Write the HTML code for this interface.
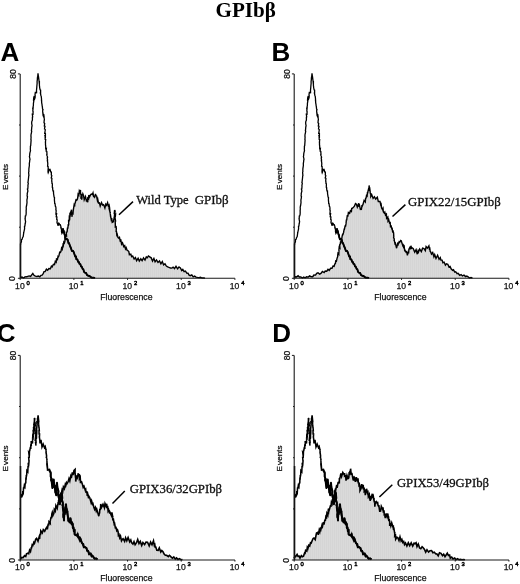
<!DOCTYPE html>
<html lang="en"><head><meta charset="utf-8"><title>GPIbβ</title>
<style>html,body{margin:0;padding:0;background:#fff}svg{display:block}</style></head>
<body>
<svg width="520" height="584" viewBox="0 0 520 584">
<defs><pattern id="stip" width="2" height="2" patternUnits="userSpaceOnUse"><rect width="2" height="2" fill="#dadada"/><rect width="1" height="2" fill="#d5d5d5"/></pattern></defs>
<rect width="520" height="584" fill="#fff"/>
<text x="245.7" y="17.4" text-anchor="middle" textLength="60.4" lengthAdjust="spacingAndGlyphs" font-family="'Liberation Serif', serif" font-weight="bold" font-size="20" fill="#000">GPIbβ</text>
<g>
<text x="0.6" y="61" font-family="'Liberation Sans', sans-serif" font-weight="bold" font-size="26" fill="#000">A</text>
<polygon points="20.5,278.3 20.5,277.5 22.0,277.1 23.6,278.0 24.9,276.9 26.5,276.8 27.8,276.3 29.1,275.9 30.6,276.5 31.7,274.8 32.8,273.5 34.0,275.3 35.4,276.1 36.9,276.5 38.4,276.0 39.8,276.8 41.0,275.3 42.1,275.1 43.2,273.7 44.0,271.6 45.1,271.6 46.4,269.2 47.6,270.2 48.9,268.5 50.4,268.7 51.4,266.1 52.2,266.8 53.4,264.3 54.5,264.6 55.3,261.3 56.2,262.2 56.5,258.9 57.4,259.5 58.1,256.2 58.6,256.5 59.0,255.4 59.7,252.1 60.5,252.4 61.0,251.4 61.6,247.9 62.3,249.1 63.0,244.9 63.3,245.5 63.8,242.1 64.4,243.0 64.9,241.5 64.9,237.6 65.9,236.3 66.0,235.4 66.5,235.8 66.3,232.4 66.6,232.5 67.1,231.8 67.5,227.6 67.8,228.6 68.2,225.0 68.5,225.1 68.7,224.4 68.6,220.6 69.2,220.7 69.3,217.4 69.7,218.1 69.9,214.6 70.2,215.1 70.7,211.6 70.8,212.6 71.5,209.7 71.7,213.3 71.6,213.8 72.1,216.8 72.2,213.1 73.0,213.7 73.3,209.6 73.3,210.5 73.4,209.4 74.1,205.0 74.7,206.5 74.7,204.5 75.5,201.7 76.0,199.8 76.7,200.2 77.1,199.8 77.7,197.8 78.1,194.2 78.8,195.3 79.3,191.1 80.1,192.8 80.5,189.9 80.5,193.5 81.0,194.7 81.3,194.1 80.9,197.9 81.7,197.8 81.7,199.7 82.1,196.8 82.0,197.1 82.1,193.8 82.6,195.4 82.9,193.9 83.6,195.6 84.2,199.8 85.5,196.6 86.4,200.9 87.4,199.5 87.8,202.3 87.7,198.2 88.6,199.0 88.8,195.1 89.5,197.0 90.8,194.5 91.4,194.1 92.4,194.5 93.0,192.9 93.7,197.1 93.9,196.4 94.6,197.3 95.5,193.9 95.9,195.7 96.7,196.1 96.8,197.5 97.4,200.5 97.8,199.4 98.5,203.2 99.4,202.9 100.2,206.1 101.5,202.6 102.6,205.0 103.6,204.6 104.9,208.1 105.8,204.2 106.6,205.3 107.6,202.6 108.4,206.2 109.1,205.1 109.5,207.0 109.8,210.1 109.4,209.7 110.3,213.3 110.1,212.5 110.5,215.9 110.6,215.8 111.2,219.3 111.7,218.0 112.2,222.4 113.3,221.7 114.1,218.3 114.4,219.6 114.0,218.1 114.3,216.8 114.8,212.6 114.3,212.9 114.6,210.0 114.8,211.1 115.2,210.5 114.9,213.2 115.2,215.2 115.5,214.8 115.4,216.1 115.0,217.6 115.6,221.0 115.2,221.2 115.3,223.9 115.3,223.6 115.3,226.9 116.1,226.6 116.3,228.6 116.1,232.0 116.4,231.1 116.8,234.9 117.2,234.3 118.0,237.5 118.9,238.3 119.5,237.5 120.2,240.9 120.9,240.3 121.6,244.2 122.5,242.9 123.8,246.6 124.7,245.6 125.5,248.9 126.2,247.6 127.2,250.4 127.8,250.6 128.8,251.6 129.4,254.7 130.8,254.2 131.7,256.7 132.7,256.0 134.1,259.0 135.4,257.5 136.6,260.6 138.1,258.3 139.3,261.1 140.8,258.8 142.1,260.7 143.5,257.9 145.0,260.1 146.3,257.0 147.3,257.8 148.4,255.9 149.7,256.8 151.2,257.8 152.5,261.1 153.9,258.4 155.1,261.8 156.5,259.9 158.0,262.4 159.5,261.0 160.9,263.9 162.3,261.6 163.6,264.8 165.0,263.8 166.3,266.0 167.7,266.8 169.0,267.4 170.5,268.0 171.8,268.1 173.1,267.1 174.5,268.6 176.0,266.3 177.6,268.8 179.0,266.9 180.4,267.9 181.7,270.5 182.8,269.4 184.1,271.6 185.5,271.1 186.7,273.0 188.0,273.2 189.1,275.2 190.2,275.7 191.8,274.9 193.2,276.8 194.6,276.1 196.0,277.1 197.5,277.4 199.0,277.6 200.5,277.2 202.0,278.0 203.6,277.9 205.0,278.2 205.0,278.3" fill="url(#stip)" stroke="none"/>
<polyline points="20.5,277.5 22.0,277.1 23.6,278.0 24.9,276.9 26.5,276.8 27.8,276.3 29.1,275.9 30.6,276.5 31.7,274.8 32.8,273.5 34.0,275.3 35.4,276.1 36.9,276.5 38.4,276.0 39.8,276.8 41.0,275.3 42.1,275.1 43.2,273.7 44.0,271.6 45.1,271.6 46.4,269.2 47.6,270.2 48.9,268.5 50.4,268.7 51.4,266.1 52.2,266.8 53.4,264.3 54.5,264.6 55.3,261.3 56.2,262.2 56.5,258.9 57.4,259.5 58.1,256.2 58.6,256.5 59.0,255.4 59.7,252.1 60.5,252.4 61.0,251.4 61.6,247.9 62.3,249.1 63.0,244.9 63.3,245.5 63.8,242.1 64.4,243.0 64.9,241.5 64.9,237.6 65.9,236.3 66.0,235.4 66.5,235.8 66.3,232.4 66.6,232.5 67.1,231.8 67.5,227.6 67.8,228.6 68.2,225.0 68.5,225.1 68.7,224.4 68.6,220.6 69.2,220.7 69.3,217.4 69.7,218.1 69.9,214.6 70.2,215.1 70.7,211.6 70.8,212.6 71.5,209.7 71.7,213.3 71.6,213.8 72.1,216.8 72.2,213.1 73.0,213.7 73.3,209.6 73.3,210.5 73.4,209.4 74.1,205.0 74.7,206.5 74.7,204.5 75.5,201.7 76.0,199.8 76.7,200.2 77.1,199.8 77.7,197.8 78.1,194.2 78.8,195.3 79.3,191.1 80.1,192.8 80.5,189.9 80.5,193.5 81.0,194.7 81.3,194.1 80.9,197.9 81.7,197.8 81.7,199.7 82.1,196.8 82.0,197.1 82.1,193.8 82.6,195.4 82.9,193.9 83.6,195.6 84.2,199.8 85.5,196.6 86.4,200.9 87.4,199.5 87.8,202.3 87.7,198.2 88.6,199.0 88.8,195.1 89.5,197.0 90.8,194.5 91.4,194.1 92.4,194.5 93.0,192.9 93.7,197.1 93.9,196.4 94.6,197.3 95.5,193.9 95.9,195.7 96.7,196.1 96.8,197.5 97.4,200.5 97.8,199.4 98.5,203.2 99.4,202.9 100.2,206.1 101.5,202.6 102.6,205.0 103.6,204.6 104.9,208.1 105.8,204.2 106.6,205.3 107.6,202.6 108.4,206.2 109.1,205.1 109.5,207.0 109.8,210.1 109.4,209.7 110.3,213.3 110.1,212.5 110.5,215.9 110.6,215.8 111.2,219.3 111.7,218.0 112.2,222.4 113.3,221.7 114.1,218.3 114.4,219.6 114.0,218.1 114.3,216.8 114.8,212.6 114.3,212.9 114.6,210.0 114.8,211.1 115.2,210.5 114.9,213.2 115.2,215.2 115.5,214.8 115.4,216.1 115.0,217.6 115.6,221.0 115.2,221.2 115.3,223.9 115.3,223.6 115.3,226.9 116.1,226.6 116.3,228.6 116.1,232.0 116.4,231.1 116.8,234.9 117.2,234.3 118.0,237.5 118.9,238.3 119.5,237.5 120.2,240.9 120.9,240.3 121.6,244.2 122.5,242.9 123.8,246.6 124.7,245.6 125.5,248.9 126.2,247.6 127.2,250.4 127.8,250.6 128.8,251.6 129.4,254.7 130.8,254.2 131.7,256.7 132.7,256.0 134.1,259.0 135.4,257.5 136.6,260.6 138.1,258.3 139.3,261.1 140.8,258.8 142.1,260.7 143.5,257.9 145.0,260.1 146.3,257.0 147.3,257.8 148.4,255.9 149.7,256.8 151.2,257.8 152.5,261.1 153.9,258.4 155.1,261.8 156.5,259.9 158.0,262.4 159.5,261.0 160.9,263.9 162.3,261.6 163.6,264.8 165.0,263.8 166.3,266.0 167.7,266.8 169.0,267.4 170.5,268.0 171.8,268.1 173.1,267.1 174.5,268.6 176.0,266.3 177.6,268.8 179.0,266.9 180.4,267.9 181.7,270.5 182.8,269.4 184.1,271.6 185.5,271.1 186.7,273.0 188.0,273.2 189.1,275.2 190.2,275.7 191.8,274.9 193.2,276.8 194.6,276.1 196.0,277.1 197.5,277.4 199.0,277.6 200.5,277.2 202.0,278.0 203.6,277.9 205.0,278.2" fill="none" stroke="#000" stroke-width="1.4" stroke-linejoin="miter"/>
<polyline points="20.6,244.5 20.9,242.5 21.4,242.2 21.5,239.6 22.2,239.2 22.4,237.9 23.2,236.5 23.6,233.7 23.8,232.2 23.8,232.3 24.4,229.6 24.6,228.9 24.5,226.3 24.9,226.1 25.2,223.4 25.2,223.5 25.6,221.8 25.1,218.8 25.2,218.8 25.3,216.0 25.7,215.9 26.1,214.5 26.2,211.8 26.1,211.1 26.3,208.9 26.2,207.4 26.5,205.6 26.6,205.6 27.0,202.7 27.0,202.3 26.9,199.8 27.1,199.4 27.5,196.7 27.1,196.1 27.3,193.9 27.2,193.7 27.9,190.9 27.4,189.1 27.8,188.9 28.0,186.5 27.9,185.8 28.3,183.2 27.9,182.7 28.1,181.6 28.4,179.0 28.5,178.3 28.7,175.9 28.9,175.6 28.6,172.4 28.9,171.5 28.8,170.7 28.9,168.6 29.2,166.6 29.4,165.3 29.3,163.8 29.3,163.8 29.7,161.0 29.7,160.6 30.0,159.2 29.4,156.6 29.6,155.8 29.8,153.4 29.9,152.9 30.5,150.6 30.3,148.9 30.4,148.5 30.4,146.1 30.7,145.7 30.9,142.6 30.9,142.9 31.1,139.9 30.9,139.7 31.1,136.8 30.9,136.3 31.1,134.0 31.3,133.5 31.7,131.2 31.4,130.8 31.6,129.1 31.8,126.6 32.1,126.0 31.7,123.7 31.7,121.9 31.8,121.6 32.4,120.1 32.4,117.2 32.7,117.0 32.3,114.2 33.0,114.3 33.1,111.5 32.8,111.1 33.1,108.2 32.8,108.3 33.4,105.4 33.4,104.3 33.4,103.6 33.8,101.2 33.5,100.5 33.7,98.1 33.8,97.5 34.2,96.3 34.0,95.9 34.7,98.8 35.1,97.7 35.2,95.4 35.0,94.8 35.4,91.9 35.4,92.8 36.0,92.1 36.6,93.2 36.5,90.4 36.5,90.2 36.8,87.1 36.8,86.9 37.0,84.5 37.1,83.9 37.1,81.1 37.4,79.6 37.3,79.5 37.5,77.0 37.7,76.8 38.0,73.4 38.4,76.4 38.5,76.5 38.9,79.8 38.9,79.6 39.2,82.6 39.4,82.4 39.4,85.3 39.6,86.8 39.6,87.3 40.1,89.8 40.6,90.1 40.6,93.1 40.4,93.1 40.9,95.5 41.2,96.1 41.5,98.8 41.5,100.5 41.6,100.5 41.7,103.2 41.9,103.6 42.2,106.3 42.3,106.4 42.6,109.1 43.0,109.5 42.6,111.1 43.1,113.8 42.9,113.7 43.1,115.5 43.4,116.2 43.7,114.2 44.1,116.8 44.1,117.5 44.4,120.1 44.2,120.3 44.0,122.7 44.7,123.5 44.3,126.0 45.0,126.2 44.5,128.9 45.2,129.3 45.2,130.5 44.7,133.4 45.4,133.4 45.4,136.7 45.1,136.4 45.2,139.4 45.7,139.5 45.4,142.5 45.5,142.6 45.5,145.2 45.7,145.7 45.7,148.7 46.4,148.5 46.1,151.2 46.8,151.5 47.0,154.5 46.7,154.9 47.6,157.1 47.2,157.9 47.6,160.3 47.3,160.5 47.6,161.8 47.8,163.8 47.6,166.2 48.1,166.4 48.2,168.9 48.1,169.2 48.0,171.9 48.2,172.7 48.7,171.5 48.6,171.8 48.8,168.7 49.3,170.2 50.1,169.6 50.7,171.9 51.4,172.0 51.3,175.0 51.8,175.6 51.2,178.0 51.9,178.4 51.7,181.3 51.9,181.5 52.0,183.7 52.4,183.9 52.3,187.3 52.6,187.4 52.8,190.0 53.4,191.8 53.5,191.7 53.6,194.2 53.7,194.4 54.1,197.2 54.5,197.6 54.4,200.3 54.5,200.7 54.7,203.4 55.0,203.5 55.4,206.5 55.8,206.8 56.0,209.2 55.8,209.7 56.2,210.7 55.9,213.9 56.6,213.8 56.2,216.7 56.9,216.9 56.7,219.4 57.2,219.8 57.0,222.7 57.2,223.1 58.0,225.2 58.0,225.2 58.1,225.8 58.5,223.1 59.0,223.3 60.0,225.1 60.4,224.9 61.2,227.8 60.9,227.8 61.8,230.5 61.4,230.9 61.9,233.1 62.2,232.4 62.4,232.1 62.7,229.2 63.0,229.0 63.4,230.9 63.9,231.1 63.9,232.1 64.6,234.8 65.0,234.9 65.1,236.7 65.9,239.3 66.8,238.9 67.8,240.0 68.5,243.2 69.0,243.0 69.6,244.7 70.3,246.9 70.6,247.1 71.6,250.1 72.1,251.1 72.9,250.8 73.7,252.1 74.2,253.5 75.2,256.5 76.0,256.4 76.3,259.2 77.4,259.4 78.1,261.8 78.8,261.9 79.5,263.9 80.4,264.2 81.0,266.4 81.8,266.7 82.6,268.9 83.4,269.4 84.1,271.9 84.9,272.7 86.1,273.0 87.0,275.0 88.2,275.8 89.6,276.0 90.5,276.9 91.9,277.8 93.5,277.6 95.0,278.1" fill="none" stroke="#000" stroke-width="1.3" stroke-linejoin="miter"/>
<path d="M20.55 278.3V243.5L20.6 244.5" fill="none" stroke="#000" stroke-width="1.5"/>
<polyline points="61.9,233.1 62.2,232.4 62.4,232.1 62.7,229.2 63.0,229.0 63.4,230.9 63.9,231.1 63.9,232.1 64.6,234.8 65.0,234.9 65.1,236.7 65.9,239.3 66.8,238.9 67.8,240.0 68.5,243.2 69.0,243.0 69.6,244.7 70.3,246.9 70.6,247.1 71.6,250.1 72.1,251.1 72.9,250.8 73.7,252.1 74.2,253.5 75.2,256.5 76.0,256.4 76.3,259.2 77.4,259.4 78.1,261.8 78.8,261.9 79.5,263.9 80.4,264.2 81.0,266.4 81.8,266.7 82.6,268.9 83.4,269.4 84.1,271.9 84.9,272.7 86.1,273.0 87.0,275.0 88.2,275.8 89.6,276.0 90.5,276.9 91.9,277.8 93.5,277.6 95.0,278.1" fill="none" stroke="#000" stroke-width="1.9" stroke-linejoin="round"/>
<path d="M20.2 73.9V278.3H234.92" fill="none" stroke="#1a1a1a" stroke-width="1.1"/>
<path d="M17.9 278.3H20.2" stroke="#1a1a1a" stroke-width="1"/>
<path d="M19.0 227.2H20.2" stroke="#1a1a1a" stroke-width="1"/>
<path d="M19.0 176.1H20.2" stroke="#1a1a1a" stroke-width="1"/>
<path d="M19.0 125.0H20.2" stroke="#1a1a1a" stroke-width="1"/>
<path d="M17.9 73.9H20.2" stroke="#1a1a1a" stroke-width="1"/>
<path d="M20.20 278.3v1.6" stroke="#1a1a1a" stroke-width="1"/>
<text x="19.9" y="288.7" text-anchor="middle" font-family="'Liberation Sans', sans-serif" font-size="8.6" fill="#111" stroke="#111" stroke-width="0.25">10</text>
<text x="26.5" y="285.1" font-family="'Liberation Sans', sans-serif" font-size="5.8" fill="#000" stroke="#000" stroke-width="0.45">0</text>
<path d="M73.88 278.3v1.6" stroke="#1a1a1a" stroke-width="1"/>
<text x="73.6" y="288.7" text-anchor="middle" font-family="'Liberation Sans', sans-serif" font-size="8.6" fill="#111" stroke="#111" stroke-width="0.25">10</text>
<text x="80.2" y="285.1" font-family="'Liberation Sans', sans-serif" font-size="5.8" fill="#000" stroke="#000" stroke-width="0.45">1</text>
<path d="M127.56 278.3v1.6" stroke="#1a1a1a" stroke-width="1"/>
<text x="127.3" y="288.7" text-anchor="middle" font-family="'Liberation Sans', sans-serif" font-size="8.6" fill="#111" stroke="#111" stroke-width="0.25">10</text>
<text x="133.9" y="285.1" font-family="'Liberation Sans', sans-serif" font-size="5.8" fill="#000" stroke="#000" stroke-width="0.45">2</text>
<path d="M181.24 278.3v1.6" stroke="#1a1a1a" stroke-width="1"/>
<text x="180.9" y="288.7" text-anchor="middle" font-family="'Liberation Sans', sans-serif" font-size="8.6" fill="#111" stroke="#111" stroke-width="0.25">10</text>
<text x="187.5" y="285.1" font-family="'Liberation Sans', sans-serif" font-size="5.8" fill="#000" stroke="#000" stroke-width="0.45">3</text>
<path d="M234.92 278.3v1.6" stroke="#1a1a1a" stroke-width="1"/>
<text x="234.6" y="288.7" text-anchor="middle" font-family="'Liberation Sans', sans-serif" font-size="8.6" fill="#111" stroke="#111" stroke-width="0.25">10</text>
<text x="241.2" y="285.1" font-family="'Liberation Sans', sans-serif" font-size="5.8" fill="#000" stroke="#000" stroke-width="0.45">4</text>
<text transform="translate(15.5 74.1) rotate(-90)" text-anchor="middle" font-family="'Liberation Sans', sans-serif" font-size="8.5" fill="#111" stroke="#111" stroke-width="0.25">80</text>
<text transform="translate(14.8 278.7) rotate(-90)" text-anchor="middle" font-family="'Liberation Sans', sans-serif" font-size="8.5" fill="#111" stroke="#111" stroke-width="0.25">0</text>
<text transform="translate(8.4 190.0) rotate(-90)" font-family="'Liberation Sans', sans-serif" font-size="8.1" fill="#111" stroke="#111" stroke-width="0.25">E<tspan dx="1.3">vents</tspan></text>
<text x="100.2" y="299.8" font-family="'Liberation Sans', sans-serif" font-size="8.7" fill="#111" stroke="#111" stroke-width="0.25" textLength="52.3" lengthAdjust="spacingAndGlyphs">Fluorescence</text>
<path d="M119 214.8L133 201.6" stroke="#000" stroke-width="1.5"/>
<text x="136.2" y="204" font-family="'Liberation Serif', serif" font-size="12.6" fill="#111" stroke="#111" stroke-width="0.3"><tspan textLength="52.5" lengthAdjust="spacingAndGlyphs">Wild Type</tspan> <tspan x="194.7" textLength="33.9" lengthAdjust="spacingAndGlyphs">GPIbβ</tspan></text>
</g>
<g>
<text x="271.4" y="61.3" font-family="'Liberation Sans', sans-serif" font-weight="bold" font-size="26" fill="#000">B</text>
<polygon points="294.0,278.3 294.0,277.8 295.5,276.7 296.7,276.9 298.1,275.7 299.3,277.0 300.8,276.9 302.4,278.0 303.7,277.1 305.1,277.8 306.6,276.8 308.3,277.1 309.6,275.9 311.1,276.7 312.7,276.7 313.9,275.0 315.5,275.1 316.7,273.4 318.0,272.8 319.6,274.1 320.9,273.4 322.4,271.5 324.1,272.6 325.2,271.0 326.8,271.2 328.0,269.4 329.2,270.4 330.6,268.3 332.0,268.3 333.0,266.0 334.1,266.3 334.9,263.8 335.4,263.6 335.7,260.9 336.4,261.2 337.1,258.1 337.7,256.6 337.7,255.4 338.0,253.2 338.8,254.3 339.0,250.1 338.8,251.0 339.2,247.1 339.9,247.9 339.7,244.9 340.1,244.8 340.6,241.3 340.8,242.8 341.3,239.1 341.7,239.1 342.1,236.3 342.7,233.9 342.7,235.2 343.7,232.1 343.5,232.7 344.3,228.7 344.3,229.9 345.2,225.5 345.5,226.6 345.8,224.8 346.0,223.9 346.4,219.6 346.7,220.4 347.0,217.5 347.4,215.1 347.8,216.6 348.4,212.4 349.6,213.3 350.4,210.7 351.4,211.5 351.7,208.4 352.3,208.3 353.2,207.6 354.4,206.2 355.5,203.6 356.4,204.1 357.3,207.1 358.7,203.2 359.1,207.0 359.6,205.7 360.3,209.1 360.9,208.7 360.9,208.9 361.3,210.0 361.9,206.0 362.2,206.2 363.2,203.8 363.2,203.5 364.1,200.4 365.3,201.9 365.6,198.3 366.1,198.1 366.5,195.5 367.1,196.0 367.5,192.0 367.6,193.3 367.9,191.6 368.8,187.8 369.0,188.6 369.1,185.4 369.5,189.2 369.8,188.8 370.3,192.9 370.5,194.0 370.8,192.9 370.8,196.5 371.8,194.8 373.1,198.4 374.4,196.8 375.7,199.0 377.3,197.2 378.3,201.5 379.1,201.5 380.0,201.4 380.7,204.7 381.1,204.1 381.6,207.9 382.4,209.3 383.0,208.3 383.3,211.7 384.1,212.9 384.8,212.0 385.5,215.1 386.4,214.2 386.6,218.3 387.8,217.1 388.0,220.8 388.7,219.6 389.5,223.0 390.2,222.6 390.5,226.5 391.2,226.1 391.8,228.8 392.2,228.6 392.6,231.6 393.1,231.2 393.6,232.8 393.8,236.6 393.6,237.6 394.3,239.0 394.1,240.4 394.3,240.5 395.0,243.7 395.4,243.2 396.1,246.3 396.6,248.2 397.6,243.6 398.1,244.5 399.1,241.8 399.6,242.3 400.7,240.4 401.2,240.7 402.6,245.0 403.0,243.8 403.6,247.1 404.2,246.3 404.6,250.0 404.8,249.7 406.0,252.2 406.7,251.6 407.4,255.3 408.1,251.8 408.6,253.5 408.9,249.2 409.7,247.7 410.2,249.3 410.9,245.8 411.6,248.3 412.2,247.8 413.3,248.7 414.7,252.2 416.1,249.7 417.3,254.2 418.1,250.9 418.5,252.0 419.7,249.0 421.3,251.6 422.6,248.2 424.0,248.6 425.3,250.6 426.1,246.5 427.4,248.1 428.9,245.9 429.4,248.8 429.8,248.4 430.2,251.4 430.5,251.5 431.5,254.0 432.7,252.5 433.9,256.8 434.7,254.6 436.0,258.5 437.6,255.3 439.1,259.3 440.3,257.7 440.9,260.1 442.1,260.1 442.9,262.7 444.1,262.1 445.4,265.2 446.4,263.9 447.8,264.3 449.0,267.0 450.1,266.5 451.1,268.8 452.6,270.3 453.5,269.8 454.6,271.9 455.7,271.7 457.1,273.6 458.1,273.3 459.7,275.3 461.1,274.6 462.4,275.9 464.0,275.1 465.5,276.6 466.8,276.1 468.1,276.8 469.4,278.0 471.0,277.6 472.5,278.2 472.5,278.3" fill="url(#stip)" stroke="none"/>
<polyline points="294.0,277.8 295.5,276.7 296.7,276.9 298.1,275.7 299.3,277.0 300.8,276.9 302.4,278.0 303.7,277.1 305.1,277.8 306.6,276.8 308.3,277.1 309.6,275.9 311.1,276.7 312.7,276.7 313.9,275.0 315.5,275.1 316.7,273.4 318.0,272.8 319.6,274.1 320.9,273.4 322.4,271.5 324.1,272.6 325.2,271.0 326.8,271.2 328.0,269.4 329.2,270.4 330.6,268.3 332.0,268.3 333.0,266.0 334.1,266.3 334.9,263.8 335.4,263.6 335.7,260.9 336.4,261.2 337.1,258.1 337.7,256.6 337.7,255.4 338.0,253.2 338.8,254.3 339.0,250.1 338.8,251.0 339.2,247.1 339.9,247.9 339.7,244.9 340.1,244.8 340.6,241.3 340.8,242.8 341.3,239.1 341.7,239.1 342.1,236.3 342.7,233.9 342.7,235.2 343.7,232.1 343.5,232.7 344.3,228.7 344.3,229.9 345.2,225.5 345.5,226.6 345.8,224.8 346.0,223.9 346.4,219.6 346.7,220.4 347.0,217.5 347.4,215.1 347.8,216.6 348.4,212.4 349.6,213.3 350.4,210.7 351.4,211.5 351.7,208.4 352.3,208.3 353.2,207.6 354.4,206.2 355.5,203.6 356.4,204.1 357.3,207.1 358.7,203.2 359.1,207.0 359.6,205.7 360.3,209.1 360.9,208.7 360.9,208.9 361.3,210.0 361.9,206.0 362.2,206.2 363.2,203.8 363.2,203.5 364.1,200.4 365.3,201.9 365.6,198.3 366.1,198.1 366.5,195.5 367.1,196.0 367.5,192.0 367.6,193.3 367.9,191.6 368.8,187.8 369.0,188.6 369.1,185.4 369.5,189.2 369.8,188.8 370.3,192.9 370.5,194.0 370.8,192.9 370.8,196.5 371.8,194.8 373.1,198.4 374.4,196.8 375.7,199.0 377.3,197.2 378.3,201.5 379.1,201.5 380.0,201.4 380.7,204.7 381.1,204.1 381.6,207.9 382.4,209.3 383.0,208.3 383.3,211.7 384.1,212.9 384.8,212.0 385.5,215.1 386.4,214.2 386.6,218.3 387.8,217.1 388.0,220.8 388.7,219.6 389.5,223.0 390.2,222.6 390.5,226.5 391.2,226.1 391.8,228.8 392.2,228.6 392.6,231.6 393.1,231.2 393.6,232.8 393.8,236.6 393.6,237.6 394.3,239.0 394.1,240.4 394.3,240.5 395.0,243.7 395.4,243.2 396.1,246.3 396.6,248.2 397.6,243.6 398.1,244.5 399.1,241.8 399.6,242.3 400.7,240.4 401.2,240.7 402.6,245.0 403.0,243.8 403.6,247.1 404.2,246.3 404.6,250.0 404.8,249.7 406.0,252.2 406.7,251.6 407.4,255.3 408.1,251.8 408.6,253.5 408.9,249.2 409.7,247.7 410.2,249.3 410.9,245.8 411.6,248.3 412.2,247.8 413.3,248.7 414.7,252.2 416.1,249.7 417.3,254.2 418.1,250.9 418.5,252.0 419.7,249.0 421.3,251.6 422.6,248.2 424.0,248.6 425.3,250.6 426.1,246.5 427.4,248.1 428.9,245.9 429.4,248.8 429.8,248.4 430.2,251.4 430.5,251.5 431.5,254.0 432.7,252.5 433.9,256.8 434.7,254.6 436.0,258.5 437.6,255.3 439.1,259.3 440.3,257.7 440.9,260.1 442.1,260.1 442.9,262.7 444.1,262.1 445.4,265.2 446.4,263.9 447.8,264.3 449.0,267.0 450.1,266.5 451.1,268.8 452.6,270.3 453.5,269.8 454.6,271.9 455.7,271.7 457.1,273.6 458.1,273.3 459.7,275.3 461.1,274.6 462.4,275.9 464.0,275.1 465.5,276.6 466.8,276.1 468.1,276.8 469.4,278.0 471.0,277.6 472.5,278.2" fill="none" stroke="#000" stroke-width="1.4" stroke-linejoin="miter"/>
<polyline points="294.6,244.5 294.9,242.5 295.4,242.2 295.5,239.6 296.2,239.2 296.4,237.9 297.2,236.5 297.6,233.7 297.8,232.2 297.8,232.3 298.4,229.6 298.6,228.9 298.5,226.3 298.9,226.1 299.2,223.4 299.2,223.5 299.6,221.8 299.1,218.8 299.2,218.8 299.3,216.0 299.7,215.9 300.1,214.5 300.2,211.8 300.1,211.1 300.3,208.9 300.2,207.4 300.5,205.6 300.6,205.6 301.0,202.7 301.0,202.3 300.9,199.8 301.1,199.4 301.5,196.7 301.1,196.1 301.3,193.9 301.2,193.7 301.9,190.9 301.4,189.1 301.8,188.9 302.0,186.5 301.9,185.8 302.3,183.2 301.9,182.7 302.1,181.6 302.4,179.0 302.5,178.3 302.7,175.9 302.9,175.6 302.6,172.4 302.9,171.5 302.8,170.7 302.9,168.6 303.2,166.6 303.4,165.3 303.3,163.8 303.3,163.8 303.7,161.0 303.7,160.6 304.0,159.2 303.4,156.6 303.6,155.8 303.8,153.4 303.9,152.9 304.5,150.6 304.3,148.9 304.4,148.5 304.4,146.1 304.7,145.7 304.9,142.6 304.9,142.9 305.1,139.9 304.9,139.7 305.1,136.8 304.9,136.3 305.1,134.0 305.3,133.5 305.7,131.2 305.4,130.8 305.6,129.1 305.8,126.6 306.1,126.0 305.7,123.7 305.7,121.9 305.8,121.6 306.4,120.1 306.4,117.2 306.7,117.0 306.3,114.2 307.0,114.3 307.1,111.5 306.8,111.1 307.1,108.2 306.8,108.3 307.4,105.4 307.4,104.3 307.4,103.6 307.8,101.2 307.5,100.5 307.7,98.1 307.8,97.5 308.2,96.3 308.0,95.9 308.7,98.8 309.1,97.7 309.2,95.4 309.0,94.8 309.4,91.9 309.4,92.8 310.0,92.1 310.6,93.2 310.5,90.4 310.5,90.2 310.8,87.1 310.8,86.9 311.0,84.5 311.1,83.9 311.1,81.1 311.4,79.6 311.3,79.5 311.5,77.0 311.7,76.8 312.0,73.4 312.4,76.4 312.5,76.5 312.9,79.8 312.9,79.6 313.2,82.6 313.4,82.4 313.4,85.3 313.6,86.8 313.6,87.3 314.1,89.8 314.6,90.1 314.6,93.1 314.4,93.1 314.9,95.5 315.2,96.1 315.5,98.8 315.5,100.5 315.6,100.5 315.7,103.2 315.9,103.6 316.2,106.3 316.3,106.4 316.6,109.1 317.0,109.5 316.6,111.1 317.1,113.8 316.9,113.7 317.1,115.5 317.4,116.2 317.7,114.2 318.1,116.8 318.1,117.5 318.4,120.1 318.2,120.3 318.0,122.7 318.7,123.5 318.3,126.0 319.0,126.2 318.5,128.9 319.2,129.3 319.2,130.5 318.7,133.4 319.4,133.4 319.4,136.7 319.1,136.4 319.2,139.4 319.7,139.5 319.4,142.5 319.5,142.6 319.5,145.2 319.7,145.7 319.7,148.7 320.4,148.5 320.1,151.2 320.8,151.5 321.0,154.5 320.7,154.9 321.6,157.1 321.2,157.9 321.6,160.3 321.3,160.5 321.6,161.8 321.8,163.8 321.6,166.2 322.1,166.4 322.2,168.9 322.1,169.2 322.0,171.9 322.2,172.7 322.7,171.5 322.6,171.8 322.8,168.7 323.3,170.2 324.1,169.6 324.7,171.9 325.4,172.0 325.3,175.0 325.8,175.6 325.2,178.0 325.9,178.4 325.7,181.3 325.9,181.5 326.0,183.7 326.4,183.9 326.3,187.3 326.6,187.4 326.8,190.0 327.4,191.8 327.5,191.7 327.6,194.2 327.7,194.4 328.1,197.2 328.5,197.6 328.4,200.3 328.5,200.7 328.7,203.4 329.0,203.5 329.4,206.5 329.8,206.8 330.0,209.2 329.8,209.7 330.2,210.7 329.9,213.9 330.6,213.8 330.2,216.7 330.9,216.9 330.7,219.4 331.2,219.8 331.0,222.7 331.2,223.1 332.0,225.2 332.0,225.2 332.1,225.8 332.5,223.1 333.0,223.3 334.0,225.1 334.4,224.9 335.2,227.8 334.9,227.8 335.8,230.5 335.4,230.9 335.9,233.1 336.2,232.4 336.4,232.1 336.7,229.2 337.0,229.0 337.4,230.9 337.9,231.1 337.9,232.1 338.6,234.8 339.0,234.9 339.1,236.7 339.9,239.3 340.8,238.9 341.8,240.0 342.5,243.2 343.0,243.0 343.6,244.7 344.3,246.9 344.6,247.1 345.6,250.1 346.1,251.1 346.9,250.8 347.7,252.1 348.2,253.5 349.2,256.5 350.0,256.4 350.3,259.2 351.4,259.4 352.1,261.8 352.8,261.9 353.5,263.9 354.4,264.2 355.0,266.4 355.8,266.7 356.6,268.9 357.4,269.4 358.1,271.9 358.9,272.7 360.1,273.0 361.0,275.0 362.2,275.8 363.6,276.0 364.5,276.9 365.9,277.8 367.5,277.6 369.0,278.1" fill="none" stroke="#000" stroke-width="1.3" stroke-linejoin="miter"/>
<path d="M294.55 278.3V243.5L294.6 244.5" fill="none" stroke="#000" stroke-width="1.5"/>
<polyline points="335.9,233.1 336.2,232.4 336.4,232.1 336.7,229.2 337.0,229.0 337.4,230.9 337.9,231.1 337.9,232.1 338.6,234.8 339.0,234.9 339.1,236.7 339.9,239.3 340.8,238.9 341.8,240.0 342.5,243.2 343.0,243.0 343.6,244.7 344.3,246.9 344.6,247.1 345.6,250.1 346.1,251.1 346.9,250.8 347.7,252.1 348.2,253.5 349.2,256.5 350.0,256.4 350.3,259.2 351.4,259.4 352.1,261.8 352.8,261.9 353.5,263.9 354.4,264.2 355.0,266.4 355.8,266.7 356.6,268.9 357.4,269.4 358.1,271.9 358.9,272.7 360.1,273.0 361.0,275.0 362.2,275.8 363.6,276.0 364.5,276.9 365.9,277.8 367.5,277.6 369.0,278.1" fill="none" stroke="#000" stroke-width="1.9" stroke-linejoin="round"/>
<path d="M294.2 73.9V278.3H508.92" fill="none" stroke="#1a1a1a" stroke-width="1.1"/>
<path d="M291.9 278.3H294.2" stroke="#1a1a1a" stroke-width="1"/>
<path d="M293.0 227.2H294.2" stroke="#1a1a1a" stroke-width="1"/>
<path d="M293.0 176.1H294.2" stroke="#1a1a1a" stroke-width="1"/>
<path d="M293.0 125.0H294.2" stroke="#1a1a1a" stroke-width="1"/>
<path d="M291.9 73.9H294.2" stroke="#1a1a1a" stroke-width="1"/>
<path d="M294.20 278.3v1.6" stroke="#1a1a1a" stroke-width="1"/>
<text x="293.9" y="288.7" text-anchor="middle" font-family="'Liberation Sans', sans-serif" font-size="8.6" fill="#111" stroke="#111" stroke-width="0.25">10</text>
<text x="300.5" y="285.1" font-family="'Liberation Sans', sans-serif" font-size="5.8" fill="#000" stroke="#000" stroke-width="0.45">0</text>
<path d="M347.88 278.3v1.6" stroke="#1a1a1a" stroke-width="1"/>
<text x="347.6" y="288.7" text-anchor="middle" font-family="'Liberation Sans', sans-serif" font-size="8.6" fill="#111" stroke="#111" stroke-width="0.25">10</text>
<text x="354.2" y="285.1" font-family="'Liberation Sans', sans-serif" font-size="5.8" fill="#000" stroke="#000" stroke-width="0.45">1</text>
<path d="M401.56 278.3v1.6" stroke="#1a1a1a" stroke-width="1"/>
<text x="401.3" y="288.7" text-anchor="middle" font-family="'Liberation Sans', sans-serif" font-size="8.6" fill="#111" stroke="#111" stroke-width="0.25">10</text>
<text x="407.9" y="285.1" font-family="'Liberation Sans', sans-serif" font-size="5.8" fill="#000" stroke="#000" stroke-width="0.45">2</text>
<path d="M455.24 278.3v1.6" stroke="#1a1a1a" stroke-width="1"/>
<text x="454.9" y="288.7" text-anchor="middle" font-family="'Liberation Sans', sans-serif" font-size="8.6" fill="#111" stroke="#111" stroke-width="0.25">10</text>
<text x="461.5" y="285.1" font-family="'Liberation Sans', sans-serif" font-size="5.8" fill="#000" stroke="#000" stroke-width="0.45">3</text>
<path d="M508.92 278.3v1.6" stroke="#1a1a1a" stroke-width="1"/>
<text x="508.6" y="288.7" text-anchor="middle" font-family="'Liberation Sans', sans-serif" font-size="8.6" fill="#111" stroke="#111" stroke-width="0.25">10</text>
<text x="515.2" y="285.1" font-family="'Liberation Sans', sans-serif" font-size="5.8" fill="#000" stroke="#000" stroke-width="0.45">4</text>
<text transform="translate(289.5 74.1) rotate(-90)" text-anchor="middle" font-family="'Liberation Sans', sans-serif" font-size="8.5" fill="#111" stroke="#111" stroke-width="0.25">80</text>
<text transform="translate(288.8 278.7) rotate(-90)" text-anchor="middle" font-family="'Liberation Sans', sans-serif" font-size="8.5" fill="#111" stroke="#111" stroke-width="0.25">0</text>
<text transform="translate(282.4 190.0) rotate(-90)" font-family="'Liberation Sans', sans-serif" font-size="8.1" fill="#111" stroke="#111" stroke-width="0.25">E<tspan dx="1.3">vents</tspan></text>
<text x="374.2" y="299.8" font-family="'Liberation Sans', sans-serif" font-size="8.7" fill="#111" stroke="#111" stroke-width="0.25" textLength="52.3" lengthAdjust="spacingAndGlyphs">Fluorescence</text>
<path d="M392.5 216.5L405.4 204.6" stroke="#000" stroke-width="1.5"/>
<text x="408.1" y="205.7" font-family="'Liberation Serif', serif" font-size="12.6" fill="#111" stroke="#111" stroke-width="0.3" textLength="92.7" lengthAdjust="spacingAndGlyphs">GPIX22/15GPIbβ</text>
</g>
<g>
<text x="-3.2" y="341.7" font-family="'Liberation Sans', sans-serif" font-weight="bold" font-size="26" fill="#000">C</text>
<polygon points="20.5,560.0 20.5,558.8 21.9,557.4 23.1,557.7 24.5,555.7 25.7,556.5 26.5,553.9 27.9,553.1 28.7,553.7 29.6,550.1 30.5,551.6 31.4,547.2 31.5,548.4 32.2,544.8 32.9,545.4 33.8,542.3 34.5,543.4 35.7,539.2 36.6,538.3 38.0,541.2 39.0,537.5 39.6,538.9 40.0,533.8 40.5,535.2 40.8,530.8 42.3,533.0 43.3,529.6 44.7,531.2 46.0,528.4 47.0,526.9 47.3,529.3 48.3,523.7 48.8,525.5 49.0,521.8 50.2,523.3 50.1,521.7 51.1,516.8 51.5,518.4 51.8,514.2 52.3,512.4 53.0,515.3 53.9,513.4 54.3,509.4 55.3,511.1 55.9,505.6 57.2,508.3 57.9,503.9 58.0,502.3 58.5,504.7 58.6,500.0 58.7,501.3 59.6,496.2 59.9,494.7 60.0,496.7 60.9,492.8 61.2,494.2 62.1,489.7 62.8,491.2 63.4,486.9 64.4,488.7 65.3,484.3 65.8,485.6 66.7,482.5 67.2,483.4 68.1,481.8 69.0,478.7 69.8,480.9 70.7,476.3 71.3,478.1 72.3,472.5 73.0,475.1 74.0,470.4 75.1,469.4 75.0,474.5 75.1,473.1 75.5,476.8 75.8,476.6 75.7,481.5 76.7,475.3 77.4,477.3 78.3,473.3 78.9,476.0 79.2,474.0 79.4,478.6 80.2,477.1 80.4,480.4 80.5,483.1 80.7,481.4 81.5,481.7 82.4,484.3 83.2,487.4 84.0,486.3 85.2,490.1 85.7,489.4 86.1,493.0 86.7,491.0 87.3,495.9 87.8,494.4 88.6,498.3 89.0,496.4 89.8,497.7 91.1,502.6 91.6,501.0 92.4,504.0 92.9,503.5 94.0,507.7 94.6,509.3 95.4,507.5 96.2,510.9 96.8,509.3 97.9,513.1 98.8,516.2 99.1,514.1 99.6,512.9 99.8,508.8 100.3,510.3 100.7,505.7 100.7,503.9 101.6,507.2 103.0,504.3 104.4,507.8 105.0,503.5 106.1,506.2 106.7,503.8 107.0,508.1 107.6,505.9 108.1,511.0 108.7,509.9 109.7,513.6 110.0,512.3 111.4,515.4 111.9,512.3 112.8,517.5 112.6,516.2 112.8,520.5 113.3,518.4 113.9,522.9 113.8,520.8 114.4,525.7 114.8,524.7 115.5,528.7 115.8,526.7 116.8,530.7 117.5,529.9 118.1,531.7 118.4,535.2 119.0,534.5 119.7,537.8 120.5,536.1 121.5,540.8 122.2,539.6 123.1,538.7 124.6,541.4 125.6,537.7 126.8,540.8 128.1,537.5 129.7,541.8 130.8,539.9 131.7,542.9 132.9,544.1 134.0,541.6 135.1,544.8 136.5,542.7 137.7,539.5 139.0,543.5 140.3,541.4 141.7,545.5 142.9,542.6 144.6,544.6 146.0,542.0 147.5,542.2 149.2,545.9 150.6,542.1 152.0,544.8 153.5,540.8 154.3,545.3 154.8,544.6 155.2,547.1 155.8,547.1 156.8,550.2 158.2,550.3 159.3,547.9 160.8,552.0 161.8,550.6 163.0,551.8 164.4,554.5 165.5,555.3 166.7,555.4 168.3,556.6 169.5,555.3 171.0,556.8 172.4,558.1 173.8,557.0 175.3,559.1 176.5,557.9 178.0,559.4 179.4,558.6 181.1,559.7 182.5,559.5 182.5,560.0" fill="url(#stip)" stroke="none"/>
<polyline points="20.5,558.8 21.9,557.4 23.1,557.7 24.5,555.7 25.7,556.5 26.5,553.9 27.9,553.1 28.7,553.7 29.6,550.1 30.5,551.6 31.4,547.2 31.5,548.4 32.2,544.8 32.9,545.4 33.8,542.3 34.5,543.4 35.7,539.2 36.6,538.3 38.0,541.2 39.0,537.5 39.6,538.9 40.0,533.8 40.5,535.2 40.8,530.8 42.3,533.0 43.3,529.6 44.7,531.2 46.0,528.4 47.0,526.9 47.3,529.3 48.3,523.7 48.8,525.5 49.0,521.8 50.2,523.3 50.1,521.7 51.1,516.8 51.5,518.4 51.8,514.2 52.3,512.4 53.0,515.3 53.9,513.4 54.3,509.4 55.3,511.1 55.9,505.6 57.2,508.3 57.9,503.9 58.0,502.3 58.5,504.7 58.6,500.0 58.7,501.3 59.6,496.2 59.9,494.7 60.0,496.7 60.9,492.8 61.2,494.2 62.1,489.7 62.8,491.2 63.4,486.9 64.4,488.7 65.3,484.3 65.8,485.6 66.7,482.5 67.2,483.4 68.1,481.8 69.0,478.7 69.8,480.9 70.7,476.3 71.3,478.1 72.3,472.5 73.0,475.1 74.0,470.4 75.1,469.4 75.0,474.5 75.1,473.1 75.5,476.8 75.8,476.6 75.7,481.5 76.7,475.3 77.4,477.3 78.3,473.3 78.9,476.0 79.2,474.0 79.4,478.6 80.2,477.1 80.4,480.4 80.5,483.1 80.7,481.4 81.5,481.7 82.4,484.3 83.2,487.4 84.0,486.3 85.2,490.1 85.7,489.4 86.1,493.0 86.7,491.0 87.3,495.9 87.8,494.4 88.6,498.3 89.0,496.4 89.8,497.7 91.1,502.6 91.6,501.0 92.4,504.0 92.9,503.5 94.0,507.7 94.6,509.3 95.4,507.5 96.2,510.9 96.8,509.3 97.9,513.1 98.8,516.2 99.1,514.1 99.6,512.9 99.8,508.8 100.3,510.3 100.7,505.7 100.7,503.9 101.6,507.2 103.0,504.3 104.4,507.8 105.0,503.5 106.1,506.2 106.7,503.8 107.0,508.1 107.6,505.9 108.1,511.0 108.7,509.9 109.7,513.6 110.0,512.3 111.4,515.4 111.9,512.3 112.8,517.5 112.6,516.2 112.8,520.5 113.3,518.4 113.9,522.9 113.8,520.8 114.4,525.7 114.8,524.7 115.5,528.7 115.8,526.7 116.8,530.7 117.5,529.9 118.1,531.7 118.4,535.2 119.0,534.5 119.7,537.8 120.5,536.1 121.5,540.8 122.2,539.6 123.1,538.7 124.6,541.4 125.6,537.7 126.8,540.8 128.1,537.5 129.7,541.8 130.8,539.9 131.7,542.9 132.9,544.1 134.0,541.6 135.1,544.8 136.5,542.7 137.7,539.5 139.0,543.5 140.3,541.4 141.7,545.5 142.9,542.6 144.6,544.6 146.0,542.0 147.5,542.2 149.2,545.9 150.6,542.1 152.0,544.8 153.5,540.8 154.3,545.3 154.8,544.6 155.2,547.1 155.8,547.1 156.8,550.2 158.2,550.3 159.3,547.9 160.8,552.0 161.8,550.6 163.0,551.8 164.4,554.5 165.5,555.3 166.7,555.4 168.3,556.6 169.5,555.3 171.0,556.8 172.4,558.1 173.8,557.0 175.3,559.1 176.5,557.9 178.0,559.4 179.4,558.6 181.1,559.7 182.5,559.5" fill="none" stroke="#000" stroke-width="1.6" stroke-linejoin="miter"/>
<polyline points="20.7,497.8 21.5,495.3 22.1,496.2 22.7,494.9 22.8,491.0 23.3,492.0 23.6,487.4 23.8,488.9 24.3,485.7 24.9,486.8 25.2,482.8 25.3,483.9 25.8,482.6 25.9,477.5 26.1,479.7 26.3,475.1 26.4,476.7 26.7,474.7 26.9,470.6 27.8,471.8 28.0,467.2 28.0,465.9 28.5,467.6 28.2,462.7 28.8,463.7 29.1,460.2 29.0,461.5 28.6,456.7 29.1,458.2 29.3,456.8 28.8,452.8 29.4,453.6 29.5,449.8 29.7,451.2 30.3,447.7 30.8,447.8 30.8,448.9 30.8,444.3 31.3,446.3 31.2,441.0 32.5,443.5 32.6,439.2 32.9,440.0 33.2,436.8 32.7,437.2 32.9,433.6 33.5,434.9 33.1,429.7 33.8,431.3 33.5,426.9 33.9,428.9 33.9,424.1 33.7,425.7 34.4,421.2 34.4,422.5 34.4,417.9 34.5,419.0 34.9,418.1 34.4,421.7 34.8,422.7 35.0,421.8 35.3,426.2 35.3,425.4 34.8,426.8 35.0,431.3 35.1,430.2 35.1,434.1 35.4,432.3 35.7,436.0 35.6,436.3 35.3,439.4 35.9,438.8 35.9,443.0 35.5,441.9 36.0,445.6 35.6,442.9 36.1,442.8 35.9,439.7 35.9,438.0 36.3,439.2 36.5,437.8 36.5,433.6 36.7,434.4 36.8,430.1 36.7,431.5 36.6,428.0 36.7,428.7 37.1,424.1 36.9,424.8 36.9,420.9 37.5,422.2 37.5,417.9 37.5,420.2 38.1,415.3 38.5,419.2 38.2,418.8 38.8,422.7 38.2,421.4 38.8,424.9 38.6,423.9 39.0,428.0 39.0,427.0 39.4,431.8 39.0,430.1 39.1,434.8 39.6,433.1 39.4,437.6 39.3,436.3 39.8,440.2 39.8,439.7 40.0,443.4 40.2,441.4 40.2,443.3 41.0,440.0 41.1,440.6 41.8,445.2 42.0,447.0 43.2,444.2 44.5,447.7 45.2,446.5 46.1,450.5 46.1,449.3 46.1,453.4 46.0,451.6 46.6,456.1 46.3,458.1 46.4,456.9 47.0,460.1 46.9,459.0 47.0,464.1 47.1,462.7 47.4,466.6 47.1,466.2 47.5,469.1 47.5,470.7 48.2,469.4 49.1,469.4 49.7,472.2 50.0,470.9 50.7,472.9 50.7,476.5 51.3,478.3 51.1,480.0 51.4,480.9 51.5,480.2 52.0,484.4 52.0,484.2 52.5,488.1 52.5,485.7 52.9,487.4 53.1,483.9 53.4,484.0 53.1,480.3 53.8,481.2 53.7,479.6 53.8,483.1 54.2,482.9 54.2,485.8 54.8,485.9 55.1,489.9 55.0,487.7 55.4,492.7 55.5,491.4 56.2,495.2 56.2,491.5 56.2,489.5 56.1,487.5 56.5,489.0 56.5,485.1 57.0,486.5 57.0,482.8 57.4,487.3 57.3,488.5 57.6,488.2 57.9,489.2 58.4,491.1 58.2,495.1 58.3,493.7 58.6,497.0 59.1,496.2 59.6,500.9 59.4,499.6 59.9,504.2 60.0,500.6 60.4,501.5 61.0,498.1 61.0,499.0 61.4,494.6 61.8,492.9 62.3,498.1 62.1,497.1 62.0,500.6 62.1,500.3 62.9,503.3 62.4,505.5 62.9,504.2 62.8,507.5 63.1,509.5 63.2,510.8 63.3,510.5 63.7,514.5 63.3,513.8 63.4,517.4 63.8,516.0 64.0,520.5 64.0,516.5 64.1,517.1 64.4,512.5 64.8,514.3 64.9,510.0 64.8,511.3 65.4,506.9 65.7,507.8 65.8,504.4 65.9,506.1 66.0,504.2 66.3,507.6 66.8,509.9 66.8,509.0 66.8,512.7 67.4,511.1 67.5,515.1 67.5,513.7 68.2,518.9 68.3,517.6 68.3,520.6 69.0,520.3 69.6,522.4 70.5,518.3 71.2,523.3 71.7,524.1 72.2,522.8 72.8,524.2 72.8,527.7 73.5,527.5 73.9,531.3 74.6,529.6 74.6,534.2 75.2,534.9 76.9,535.7 77.6,534.0 78.2,537.3 78.8,536.9 79.8,540.4 80.4,538.5 81.8,542.8 82.6,543.7 83.0,545.0 83.2,544.0 83.8,547.3 85.0,547.1 86.5,548.1 87.1,550.8 88.0,550.8 88.4,551.6 89.1,554.3 90.7,553.5 91.6,556.3 92.4,555.6 93.4,557.0 94.7,558.8 96.2,558.4 97.5,559.5" fill="none" stroke="#000" stroke-width="1.55" stroke-linejoin="miter"/>
<path d="M20.55 560V466L20.7 497.8" fill="none" stroke="#000" stroke-width="1.5"/>
<polyline points="50.0,470.9 50.7,472.9 50.7,476.5 51.3,478.3 51.1,480.0 51.4,480.9 51.5,480.2 52.0,484.4 52.0,484.2 52.5,488.1 52.5,485.7 52.9,487.4 53.1,483.9 53.4,484.0 53.1,480.3 53.8,481.2 53.7,479.6 53.8,483.1 54.2,482.9 54.2,485.8 54.8,485.9 55.1,489.9 55.0,487.7 55.4,492.7 55.5,491.4 56.2,495.2 56.2,491.5 56.2,489.5 56.1,487.5 56.5,489.0 56.5,485.1 57.0,486.5 57.0,482.8 57.4,487.3 57.3,488.5 57.6,488.2 57.9,489.2 58.4,491.1 58.2,495.1 58.3,493.7 58.6,497.0 59.1,496.2 59.6,500.9 59.4,499.6 59.9,504.2 60.0,500.6 60.4,501.5 61.0,498.1 61.0,499.0 61.4,494.6 61.8,492.9 62.3,498.1 62.1,497.1 62.0,500.6 62.1,500.3 62.9,503.3 62.4,505.5 62.9,504.2 62.8,507.5 63.1,509.5 63.2,510.8 63.3,510.5 63.7,514.5 63.3,513.8 63.4,517.4 63.8,516.0 64.0,520.5 64.0,516.5 64.1,517.1 64.4,512.5 64.8,514.3 64.9,510.0 64.8,511.3 65.4,506.9 65.7,507.8 65.8,504.4 65.9,506.1 66.0,504.2 66.3,507.6 66.8,509.9 66.8,509.0 66.8,512.7 67.4,511.1 67.5,515.1 67.5,513.7 68.2,518.9 68.3,517.6 68.3,520.6 69.0,520.3 69.6,522.4 70.5,518.3 71.2,523.3 71.7,524.1 72.2,522.8 72.8,524.2 72.8,527.7 73.5,527.5 73.9,531.3 74.6,529.6 74.6,534.2 75.2,534.9 76.9,535.7 77.6,534.0 78.2,537.3 78.8,536.9 79.8,540.4 80.4,538.5 81.8,542.8 82.6,543.7 83.0,545.0 83.2,544.0 83.8,547.3 85.0,547.1 86.5,548.1 87.1,550.8 88.0,550.8 88.4,551.6 89.1,554.3 90.7,553.5 91.6,556.3 92.4,555.6 93.4,557.0 94.7,558.8 96.2,558.4 97.5,559.5" fill="none" stroke="#000" stroke-width="2.0" stroke-linejoin="round"/>
<path d="M20.2 355.4V560H234.92" fill="none" stroke="#1a1a1a" stroke-width="1.1"/>
<path d="M17.9 560.0H20.2" stroke="#1a1a1a" stroke-width="1"/>
<path d="M19.0 508.9H20.2" stroke="#1a1a1a" stroke-width="1"/>
<path d="M19.0 457.7H20.2" stroke="#1a1a1a" stroke-width="1"/>
<path d="M19.0 406.5H20.2" stroke="#1a1a1a" stroke-width="1"/>
<path d="M17.9 355.4H20.2" stroke="#1a1a1a" stroke-width="1"/>
<path d="M20.20 560v1.6" stroke="#1a1a1a" stroke-width="1"/>
<text x="19.9" y="569.9" text-anchor="middle" font-family="'Liberation Sans', sans-serif" font-size="8.6" fill="#111" stroke="#111" stroke-width="0.25">10</text>
<text x="26.5" y="566.3" font-family="'Liberation Sans', sans-serif" font-size="5.8" fill="#000" stroke="#000" stroke-width="0.45">0</text>
<path d="M73.88 560v1.6" stroke="#1a1a1a" stroke-width="1"/>
<text x="73.6" y="569.9" text-anchor="middle" font-family="'Liberation Sans', sans-serif" font-size="8.6" fill="#111" stroke="#111" stroke-width="0.25">10</text>
<text x="80.2" y="566.3" font-family="'Liberation Sans', sans-serif" font-size="5.8" fill="#000" stroke="#000" stroke-width="0.45">1</text>
<path d="M127.56 560v1.6" stroke="#1a1a1a" stroke-width="1"/>
<text x="127.3" y="569.9" text-anchor="middle" font-family="'Liberation Sans', sans-serif" font-size="8.6" fill="#111" stroke="#111" stroke-width="0.25">10</text>
<text x="133.9" y="566.3" font-family="'Liberation Sans', sans-serif" font-size="5.8" fill="#000" stroke="#000" stroke-width="0.45">2</text>
<path d="M181.24 560v1.6" stroke="#1a1a1a" stroke-width="1"/>
<text x="180.9" y="569.9" text-anchor="middle" font-family="'Liberation Sans', sans-serif" font-size="8.6" fill="#111" stroke="#111" stroke-width="0.25">10</text>
<text x="187.5" y="566.3" font-family="'Liberation Sans', sans-serif" font-size="5.8" fill="#000" stroke="#000" stroke-width="0.45">3</text>
<path d="M234.92 560v1.6" stroke="#1a1a1a" stroke-width="1"/>
<text x="234.6" y="569.9" text-anchor="middle" font-family="'Liberation Sans', sans-serif" font-size="8.6" fill="#111" stroke="#111" stroke-width="0.25">10</text>
<text x="241.2" y="566.3" font-family="'Liberation Sans', sans-serif" font-size="5.8" fill="#000" stroke="#000" stroke-width="0.45">4</text>
<text transform="translate(15.5 355.6) rotate(-90)" text-anchor="middle" font-family="'Liberation Sans', sans-serif" font-size="8.5" fill="#111" stroke="#111" stroke-width="0.25">80</text>
<text transform="translate(14.8 560.4) rotate(-90)" text-anchor="middle" font-family="'Liberation Sans', sans-serif" font-size="8.5" fill="#111" stroke="#111" stroke-width="0.25">0</text>
<text transform="translate(8.4 471.6) rotate(-90)" font-family="'Liberation Sans', sans-serif" font-size="8.1" fill="#111" stroke="#111" stroke-width="0.25">E<tspan dx="1.3">vents</tspan></text>
<text x="100.2" y="580.8" font-family="'Liberation Sans', sans-serif" font-size="8.7" fill="#111" stroke="#111" stroke-width="0.25" textLength="52.3" lengthAdjust="spacingAndGlyphs">Fluorescence</text>
<path d="M112.5 503.5L124.8 491" stroke="#000" stroke-width="1.5"/>
<text x="129.8" y="492.6" font-family="'Liberation Serif', serif" font-size="12.6" fill="#111" stroke="#111" stroke-width="0.3" textLength="92.3" lengthAdjust="spacingAndGlyphs">GPIX36/32GPIbβ</text>
</g>
<g>
<text x="272.2" y="342" font-family="'Liberation Sans', sans-serif" font-weight="bold" font-size="26" fill="#000">D</text>
<polygon points="294.0,560.0 294.0,558.3 295.0,556.3 295.7,556.5 297.1,554.4 298.0,556.4 299.2,556.2 300.0,558.1 301.3,555.7 302.3,556.8 303.5,556.1 304.6,553.0 305.1,553.3 305.6,550.4 306.8,551.2 307.3,547.4 307.9,548.6 308.8,545.2 309.7,546.0 310.5,542.8 311.2,543.2 312.3,540.3 313.1,538.5 313.9,538.0 315.2,539.6 316.1,535.0 316.5,533.1 317.6,532.5 318.3,534.9 319.2,530.2 319.8,531.7 320.5,527.4 321.0,529.2 322.0,525.1 322.5,526.4 323.3,522.1 324.0,524.5 324.9,519.6 325.3,520.8 325.8,517.2 326.5,518.8 326.9,513.4 327.8,515.2 328.2,511.2 328.6,512.0 329.0,508.4 329.4,509.4 330.4,505.9 331.0,506.0 331.4,502.5 332.1,503.8 332.5,499.1 333.3,501.0 333.8,497.8 334.5,498.4 334.6,496.3 334.7,492.3 334.8,491.2 335.6,492.2 335.5,488.3 335.7,490.2 336.7,485.0 337.1,487.8 338.1,482.4 338.6,482.1 339.3,483.5 339.4,478.0 339.5,479.4 340.3,476.4 340.9,473.4 341.6,476.4 342.8,472.4 344.0,474.4 344.6,473.0 344.6,476.2 345.7,475.7 346.0,480.7 347.0,475.5 348.0,478.5 348.8,477.8 349.1,473.3 349.8,473.9 349.9,470.9 350.3,472.6 350.6,468.7 351.1,473.9 351.7,474.4 351.8,473.0 352.8,478.0 353.4,476.2 353.8,480.6 354.6,478.4 355.4,481.8 356.3,477.2 357.6,481.5 358.0,478.2 358.3,483.4 358.7,482.2 359.0,485.3 359.5,484.6 359.9,486.2 360.0,490.7 361.0,488.8 361.8,484.2 362.4,486.6 363.2,484.8 363.5,489.8 364.2,487.4 364.2,491.4 365.0,490.7 365.3,495.2 366.5,488.8 367.5,492.8 367.9,492.2 368.3,496.5 369.3,494.5 369.6,499.3 369.6,496.9 370.2,500.9 370.5,495.7 371.3,497.8 372.3,493.8 372.7,498.0 373.3,496.4 374.0,500.7 373.9,498.2 374.3,502.4 374.7,501.3 374.8,506.7 375.3,502.3 376.2,501.5 377.4,504.0 377.5,501.7 378.0,505.2 378.6,506.3 378.8,505.2 379.5,510.0 379.8,511.8 380.1,509.3 380.5,511.6 381.3,506.4 382.6,509.3 383.0,507.3 383.4,512.7 384.0,510.4 384.3,515.8 384.5,514.1 385.3,518.0 386.1,513.4 387.1,516.7 387.8,513.5 388.3,517.7 388.5,516.3 388.8,521.1 389.1,519.2 389.7,521.4 389.7,525.9 389.9,522.9 390.8,526.1 391.7,522.9 392.9,526.8 393.3,525.2 393.4,529.2 394.0,529.8 394.1,529.6 394.7,533.5 394.8,531.9 394.7,536.1 395.5,535.4 395.7,539.1 396.9,537.2 397.8,537.6 399.0,540.5 400.0,536.8 401.1,540.9 401.9,539.5 402.8,542.4 403.7,541.5 404.5,544.6 405.5,543.0 406.9,546.1 408.3,542.8 409.7,545.7 411.2,542.8 412.7,546.1 414.1,543.1 415.0,543.7 416.1,542.7 417.0,546.7 418.3,544.0 419.6,547.9 420.8,548.6 422.1,546.7 423.2,547.7 424.5,549.4 425.7,552.2 427.0,549.7 428.6,552.1 430.0,550.7 431.6,550.6 432.9,552.8 434.3,552.3 435.8,554.0 436.8,553.8 438.2,555.8 439.5,552.7 441.0,553.3 442.5,555.7 443.7,554.2 445.0,556.7 446.1,555.0 447.3,553.2 448.4,555.5 449.6,555.1 450.3,558.1 451.7,557.1 453.0,559.0 454.7,558.0 456.0,559.7 457.5,558.8 459.0,559.7 460.4,559.4 462.0,559.7 463.5,559.5 465.0,559.8 465.0,560.0" fill="url(#stip)" stroke="none"/>
<polyline points="294.0,558.3 295.0,556.3 295.7,556.5 297.1,554.4 298.0,556.4 299.2,556.2 300.0,558.1 301.3,555.7 302.3,556.8 303.5,556.1 304.6,553.0 305.1,553.3 305.6,550.4 306.8,551.2 307.3,547.4 307.9,548.6 308.8,545.2 309.7,546.0 310.5,542.8 311.2,543.2 312.3,540.3 313.1,538.5 313.9,538.0 315.2,539.6 316.1,535.0 316.5,533.1 317.6,532.5 318.3,534.9 319.2,530.2 319.8,531.7 320.5,527.4 321.0,529.2 322.0,525.1 322.5,526.4 323.3,522.1 324.0,524.5 324.9,519.6 325.3,520.8 325.8,517.2 326.5,518.8 326.9,513.4 327.8,515.2 328.2,511.2 328.6,512.0 329.0,508.4 329.4,509.4 330.4,505.9 331.0,506.0 331.4,502.5 332.1,503.8 332.5,499.1 333.3,501.0 333.8,497.8 334.5,498.4 334.6,496.3 334.7,492.3 334.8,491.2 335.6,492.2 335.5,488.3 335.7,490.2 336.7,485.0 337.1,487.8 338.1,482.4 338.6,482.1 339.3,483.5 339.4,478.0 339.5,479.4 340.3,476.4 340.9,473.4 341.6,476.4 342.8,472.4 344.0,474.4 344.6,473.0 344.6,476.2 345.7,475.7 346.0,480.7 347.0,475.5 348.0,478.5 348.8,477.8 349.1,473.3 349.8,473.9 349.9,470.9 350.3,472.6 350.6,468.7 351.1,473.9 351.7,474.4 351.8,473.0 352.8,478.0 353.4,476.2 353.8,480.6 354.6,478.4 355.4,481.8 356.3,477.2 357.6,481.5 358.0,478.2 358.3,483.4 358.7,482.2 359.0,485.3 359.5,484.6 359.9,486.2 360.0,490.7 361.0,488.8 361.8,484.2 362.4,486.6 363.2,484.8 363.5,489.8 364.2,487.4 364.2,491.4 365.0,490.7 365.3,495.2 366.5,488.8 367.5,492.8 367.9,492.2 368.3,496.5 369.3,494.5 369.6,499.3 369.6,496.9 370.2,500.9 370.5,495.7 371.3,497.8 372.3,493.8 372.7,498.0 373.3,496.4 374.0,500.7 373.9,498.2 374.3,502.4 374.7,501.3 374.8,506.7 375.3,502.3 376.2,501.5 377.4,504.0 377.5,501.7 378.0,505.2 378.6,506.3 378.8,505.2 379.5,510.0 379.8,511.8 380.1,509.3 380.5,511.6 381.3,506.4 382.6,509.3 383.0,507.3 383.4,512.7 384.0,510.4 384.3,515.8 384.5,514.1 385.3,518.0 386.1,513.4 387.1,516.7 387.8,513.5 388.3,517.7 388.5,516.3 388.8,521.1 389.1,519.2 389.7,521.4 389.7,525.9 389.9,522.9 390.8,526.1 391.7,522.9 392.9,526.8 393.3,525.2 393.4,529.2 394.0,529.8 394.1,529.6 394.7,533.5 394.8,531.9 394.7,536.1 395.5,535.4 395.7,539.1 396.9,537.2 397.8,537.6 399.0,540.5 400.0,536.8 401.1,540.9 401.9,539.5 402.8,542.4 403.7,541.5 404.5,544.6 405.5,543.0 406.9,546.1 408.3,542.8 409.7,545.7 411.2,542.8 412.7,546.1 414.1,543.1 415.0,543.7 416.1,542.7 417.0,546.7 418.3,544.0 419.6,547.9 420.8,548.6 422.1,546.7 423.2,547.7 424.5,549.4 425.7,552.2 427.0,549.7 428.6,552.1 430.0,550.7 431.6,550.6 432.9,552.8 434.3,552.3 435.8,554.0 436.8,553.8 438.2,555.8 439.5,552.7 441.0,553.3 442.5,555.7 443.7,554.2 445.0,556.7 446.1,555.0 447.3,553.2 448.4,555.5 449.6,555.1 450.3,558.1 451.7,557.1 453.0,559.0 454.7,558.0 456.0,559.7 457.5,558.8 459.0,559.7 460.4,559.4 462.0,559.7 463.5,559.5 465.0,559.8" fill="none" stroke="#000" stroke-width="1.6" stroke-linejoin="miter"/>
<polyline points="294.7,497.8 295.5,495.3 296.1,496.2 296.7,494.9 296.8,491.0 297.3,492.0 297.6,487.4 297.8,488.9 298.3,485.7 298.9,486.8 299.2,482.8 299.3,483.9 299.8,482.6 299.9,477.5 300.1,479.7 300.3,475.1 300.4,476.7 300.7,474.7 300.9,470.6 301.8,471.8 302.0,467.2 302.0,465.9 302.5,467.6 302.2,462.7 302.8,463.7 303.1,460.2 303.0,461.5 302.6,456.7 303.1,458.2 303.3,456.8 302.8,452.8 303.4,453.6 303.5,449.8 303.7,451.2 304.3,447.7 304.8,447.8 304.8,448.9 304.8,444.3 305.3,446.3 305.2,441.0 306.5,443.5 306.6,439.2 306.9,440.0 307.2,436.8 306.7,437.2 306.9,433.6 307.5,434.9 307.1,429.7 307.8,431.3 307.5,426.9 307.9,428.9 307.9,424.1 307.7,425.7 308.4,421.2 308.4,422.5 308.4,417.9 308.5,419.0 308.9,418.1 308.4,421.7 308.8,422.7 309.0,421.8 309.3,426.2 309.3,425.4 308.8,426.8 309.0,431.3 309.1,430.2 309.1,434.1 309.4,432.3 309.7,436.0 309.6,436.3 309.3,439.4 309.9,438.8 309.9,443.0 309.5,441.9 310.0,445.6 309.6,442.9 310.1,442.8 309.9,439.7 309.9,438.0 310.3,439.2 310.5,437.8 310.5,433.6 310.7,434.4 310.8,430.1 310.7,431.5 310.6,428.0 310.7,428.7 311.1,424.1 310.9,424.8 310.9,420.9 311.5,422.2 311.5,417.9 311.5,420.2 312.1,415.3 312.5,419.2 312.2,418.8 312.8,422.7 312.2,421.4 312.8,424.9 312.6,423.9 313.0,428.0 313.0,427.0 313.4,431.8 313.0,430.1 313.1,434.8 313.6,433.1 313.4,437.6 313.3,436.3 313.8,440.2 313.8,439.7 314.0,443.4 314.2,441.4 314.2,443.3 315.0,440.0 315.1,440.6 315.8,445.2 316.0,447.0 317.2,444.2 318.5,447.7 319.2,446.5 320.1,450.5 320.1,449.3 320.1,453.4 320.0,451.6 320.6,456.1 320.3,458.1 320.4,456.9 321.0,460.1 320.9,459.0 321.0,464.1 321.1,462.7 321.4,466.6 321.1,466.2 321.5,469.1 321.5,470.7 322.2,469.4 323.1,469.4 323.7,472.2 324.0,470.9 324.7,472.9 324.7,476.5 325.3,478.3 325.1,480.0 325.4,480.9 325.5,480.2 326.0,484.4 326.0,484.2 326.5,488.1 326.5,485.7 326.9,487.4 327.1,483.9 327.4,484.0 327.1,480.3 327.8,481.2 327.7,479.6 327.8,483.1 328.2,482.9 328.2,485.8 328.8,485.9 329.1,489.9 329.0,487.7 329.4,492.7 329.5,491.4 330.2,495.2 330.2,491.5 330.2,489.5 330.1,487.5 330.5,489.0 330.5,485.1 331.0,486.5 331.0,482.8 331.4,487.3 331.3,488.5 331.6,488.2 331.9,489.2 332.4,491.1 332.2,495.1 332.3,493.7 332.6,497.0 333.1,496.2 333.6,500.9 333.4,499.6 333.9,504.2 334.0,500.6 334.4,501.5 335.0,498.1 335.0,499.0 335.4,494.6 335.8,492.9 336.3,498.1 336.1,497.1 336.0,500.6 336.1,500.3 336.9,503.3 336.4,505.5 336.9,504.2 336.8,507.5 337.1,509.5 337.2,510.8 337.3,510.5 337.7,514.5 337.3,513.8 337.4,517.4 337.8,516.0 338.0,520.5 338.0,516.5 338.1,517.1 338.4,512.5 338.8,514.3 338.9,510.0 338.8,511.3 339.4,506.9 339.7,507.8 339.8,504.4 339.9,506.1 340.0,504.2 340.3,507.6 340.8,509.9 340.8,509.0 340.8,512.7 341.4,511.1 341.5,515.1 341.5,513.7 342.2,518.9 342.3,517.6 342.3,520.6 343.0,520.3 343.6,522.4 344.5,518.3 345.2,523.3 345.7,524.1 346.2,522.8 346.8,524.2 346.8,527.7 347.5,527.5 347.9,531.3 348.6,529.6 348.6,534.2 349.2,534.9 350.9,535.7 351.6,534.0 352.2,537.3 352.8,536.9 353.8,540.4 354.4,538.5 355.8,542.8 356.6,543.7 357.0,545.0 357.2,544.0 357.8,547.3 359.0,547.1 360.5,548.1 361.1,550.8 362.0,550.8 362.4,551.6 363.1,554.3 364.7,553.5 365.6,556.3 366.4,555.6 367.4,557.0 368.7,558.8 370.2,558.4 371.5,559.5" fill="none" stroke="#000" stroke-width="1.55" stroke-linejoin="miter"/>
<path d="M294.55 560V466L294.7 497.8" fill="none" stroke="#000" stroke-width="1.5"/>
<polyline points="324.0,470.9 324.7,472.9 324.7,476.5 325.3,478.3 325.1,480.0 325.4,480.9 325.5,480.2 326.0,484.4 326.0,484.2 326.5,488.1 326.5,485.7 326.9,487.4 327.1,483.9 327.4,484.0 327.1,480.3 327.8,481.2 327.7,479.6 327.8,483.1 328.2,482.9 328.2,485.8 328.8,485.9 329.1,489.9 329.0,487.7 329.4,492.7 329.5,491.4 330.2,495.2 330.2,491.5 330.2,489.5 330.1,487.5 330.5,489.0 330.5,485.1 331.0,486.5 331.0,482.8 331.4,487.3 331.3,488.5 331.6,488.2 331.9,489.2 332.4,491.1 332.2,495.1 332.3,493.7 332.6,497.0 333.1,496.2 333.6,500.9 333.4,499.6 333.9,504.2 334.0,500.6 334.4,501.5 335.0,498.1 335.0,499.0 335.4,494.6 335.8,492.9 336.3,498.1 336.1,497.1 336.0,500.6 336.1,500.3 336.9,503.3 336.4,505.5 336.9,504.2 336.8,507.5 337.1,509.5 337.2,510.8 337.3,510.5 337.7,514.5 337.3,513.8 337.4,517.4 337.8,516.0 338.0,520.5 338.0,516.5 338.1,517.1 338.4,512.5 338.8,514.3 338.9,510.0 338.8,511.3 339.4,506.9 339.7,507.8 339.8,504.4 339.9,506.1 340.0,504.2 340.3,507.6 340.8,509.9 340.8,509.0 340.8,512.7 341.4,511.1 341.5,515.1 341.5,513.7 342.2,518.9 342.3,517.6 342.3,520.6 343.0,520.3 343.6,522.4 344.5,518.3 345.2,523.3 345.7,524.1 346.2,522.8 346.8,524.2 346.8,527.7 347.5,527.5 347.9,531.3 348.6,529.6 348.6,534.2 349.2,534.9 350.9,535.7 351.6,534.0 352.2,537.3 352.8,536.9 353.8,540.4 354.4,538.5 355.8,542.8 356.6,543.7 357.0,545.0 357.2,544.0 357.8,547.3 359.0,547.1 360.5,548.1 361.1,550.8 362.0,550.8 362.4,551.6 363.1,554.3 364.7,553.5 365.6,556.3 366.4,555.6 367.4,557.0 368.7,558.8 370.2,558.4 371.5,559.5" fill="none" stroke="#000" stroke-width="2.0" stroke-linejoin="round"/>
<path d="M294.2 355.4V560H508.92" fill="none" stroke="#1a1a1a" stroke-width="1.1"/>
<path d="M291.9 560.0H294.2" stroke="#1a1a1a" stroke-width="1"/>
<path d="M293.0 508.9H294.2" stroke="#1a1a1a" stroke-width="1"/>
<path d="M293.0 457.7H294.2" stroke="#1a1a1a" stroke-width="1"/>
<path d="M293.0 406.5H294.2" stroke="#1a1a1a" stroke-width="1"/>
<path d="M291.9 355.4H294.2" stroke="#1a1a1a" stroke-width="1"/>
<path d="M294.20 560v1.6" stroke="#1a1a1a" stroke-width="1"/>
<text x="293.9" y="569.9" text-anchor="middle" font-family="'Liberation Sans', sans-serif" font-size="8.6" fill="#111" stroke="#111" stroke-width="0.25">10</text>
<text x="300.5" y="566.3" font-family="'Liberation Sans', sans-serif" font-size="5.8" fill="#000" stroke="#000" stroke-width="0.45">0</text>
<path d="M347.88 560v1.6" stroke="#1a1a1a" stroke-width="1"/>
<text x="347.6" y="569.9" text-anchor="middle" font-family="'Liberation Sans', sans-serif" font-size="8.6" fill="#111" stroke="#111" stroke-width="0.25">10</text>
<text x="354.2" y="566.3" font-family="'Liberation Sans', sans-serif" font-size="5.8" fill="#000" stroke="#000" stroke-width="0.45">1</text>
<path d="M401.56 560v1.6" stroke="#1a1a1a" stroke-width="1"/>
<text x="401.3" y="569.9" text-anchor="middle" font-family="'Liberation Sans', sans-serif" font-size="8.6" fill="#111" stroke="#111" stroke-width="0.25">10</text>
<text x="407.9" y="566.3" font-family="'Liberation Sans', sans-serif" font-size="5.8" fill="#000" stroke="#000" stroke-width="0.45">2</text>
<path d="M455.24 560v1.6" stroke="#1a1a1a" stroke-width="1"/>
<text x="454.9" y="569.9" text-anchor="middle" font-family="'Liberation Sans', sans-serif" font-size="8.6" fill="#111" stroke="#111" stroke-width="0.25">10</text>
<text x="461.5" y="566.3" font-family="'Liberation Sans', sans-serif" font-size="5.8" fill="#000" stroke="#000" stroke-width="0.45">3</text>
<path d="M508.92 560v1.6" stroke="#1a1a1a" stroke-width="1"/>
<text x="508.6" y="569.9" text-anchor="middle" font-family="'Liberation Sans', sans-serif" font-size="8.6" fill="#111" stroke="#111" stroke-width="0.25">10</text>
<text x="515.2" y="566.3" font-family="'Liberation Sans', sans-serif" font-size="5.8" fill="#000" stroke="#000" stroke-width="0.45">4</text>
<text transform="translate(289.5 355.6) rotate(-90)" text-anchor="middle" font-family="'Liberation Sans', sans-serif" font-size="8.5" fill="#111" stroke="#111" stroke-width="0.25">80</text>
<text transform="translate(288.8 560.4) rotate(-90)" text-anchor="middle" font-family="'Liberation Sans', sans-serif" font-size="8.5" fill="#111" stroke="#111" stroke-width="0.25">0</text>
<text transform="translate(282.4 471.6) rotate(-90)" font-family="'Liberation Sans', sans-serif" font-size="8.1" fill="#111" stroke="#111" stroke-width="0.25">E<tspan dx="1.3">vents</tspan></text>
<text x="374.2" y="580.8" font-family="'Liberation Sans', sans-serif" font-size="8.7" fill="#111" stroke="#111" stroke-width="0.25" textLength="52.3" lengthAdjust="spacingAndGlyphs">Fluorescence</text>
<path d="M379.4 497L392.3 484.7" stroke="#000" stroke-width="1.5"/>
<text x="396.9" y="486.7" font-family="'Liberation Serif', serif" font-size="12.6" fill="#111" stroke="#111" stroke-width="0.3" textLength="92.1" lengthAdjust="spacingAndGlyphs">GPIX53/49GPIbβ</text>
</g>
</svg>
</body></html>
